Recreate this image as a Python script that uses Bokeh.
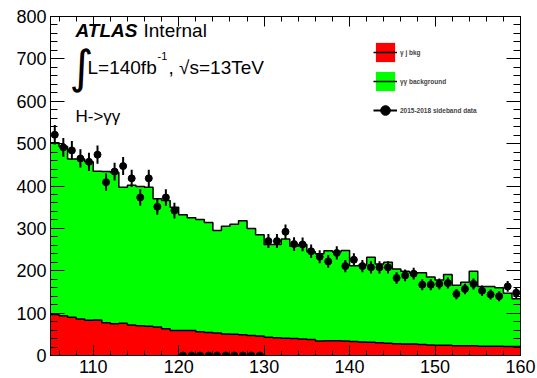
import numpy as np
from bokeh.plotting import figure
from bokeh.models import Label, Legend, LegendItem, LinearAxis, SingleIntervalTicker
from bokeh.embed import file_html
from bokeh.resources import INLINE

# ---------------- data ----------------
bin_edges = np.arange(105, 161, 1)          # 1 GeV bins, 105..160

gj_bkg = [97, 94, 90, 86, 83, 84, 77, 75, 76, 72,
          70, 69, 67, 63, 59, 59, 59, 56, 54, 53,
          51, 50, 49, 47, 46, 43, 42, 41, 40, 39,
          38, 34, 35, 35, 34, 33, 32, 31, 30, 29,
          28, 27, 27, 26, 25, 24, 24, 23, 23, 23,
          22, 22, 22, 21, 21]

total_bkg = [502, 493, 464, 464, 457, 435, 434, 432, 397, 402,
             399, 397, 370, 366, 350, 332, 325, 321, 314, 295,
             305, 310, 318, 300, 285, 262, 262, 275, 258, 262,
             245, 240, 247, 244, 248, 212, 213, 232, 216, 220,
             204, 199, 195, 195, 185, 178, 191, 166, 173, 199,
             163, 163, 160, 147, 134]

data_counts = [521, 491, 484, 465, 457, 474, 409, 434, 447, 418,
               373, 418, 351, 373, 342,
               0, 0, 0, 0, 0, 0, 0, 0, 0, 0,
               270, 270, 292, 263, 262, 246, 233, 222, 242, 211,
               226, 211, 208, 208, 208, 183, 189, 193, 167, 167,
               169, 171, 145, 157, 169, 153, 144, 140, 163, 148]

x_tick_values = [110, 120, 130, 140, 150, 160]
y_tick_values = [0, 100, 200, 300, 400, 500, 600, 700, 800]

# ---------------- derived ----------------
lo = bin_edges[:-1]
hi = bin_edges[1:]
centers = (lo + hi) / 2.0
data = np.array(data_counts, dtype=float)
err = np.sqrt(data)
gj_step = list(gj_bkg) + [gj_bkg[-1]]
tot_step = list(total_bkg) + [total_bkg[-1]]

FONT = "Liberation Sans"

p = figure(width=537, height=378, x_range=(105, 160), y_range=(0, 800),
           output_backend="svg", toolbar_location=None,
           min_border_left=50, min_border_right=17, min_border_top=16, min_border_bottom=23)
p.grid.visible = False
p.outline_line_color = "black"
p.background_fill_color = "white"
p.border_fill_color = "white"

def style_axis(ax, interval, tick_in, minor_in, labels=None):
    ax.ticker = SingleIntervalTicker(interval=interval, num_minor_ticks=5)
    ax.major_tick_in = tick_in
    ax.major_tick_out = 0
    ax.minor_tick_in = minor_in
    ax.minor_tick_out = 0
    ax.axis_line_color = "black"
    ax.major_tick_line_color = "black"
    ax.minor_tick_line_color = "black"
    ax.major_label_text_font = FONT
    ax.major_label_text_font_size = "18px"
    ax.major_label_text_color = "black"
    if labels is not None:
        ax.major_label_overrides = {v: "" for v in labels}
        ax.major_label_standoff = 0

style_axis(p.xaxis[0], 10, 10, 5)
p.xaxis[0].major_label_standoff = 4
style_axis(p.yaxis[0], 100, 14, 7)
p.yaxis[0].major_label_standoff = 4

top_ax = LinearAxis()
style_axis(top_ax, 10, 10, 5, labels=x_tick_values)
p.add_layout(top_ax, "above")
right_ax = LinearAxis()
style_axis(right_ax, 100, 14, 7, labels=y_tick_values)
p.add_layout(right_ax, "right")

# stacked histograms
red = p.varea_step(x=bin_edges, y1=np.zeros(len(bin_edges)), y2=gj_step, step_mode="after",
                   fill_color="#ff0000")
green = p.varea_step(x=bin_edges, y1=gj_step, y2=tot_step, step_mode="after",
                     fill_color="#00ff00")
red_line = p.step(x=bin_edges, y=gj_step, mode="after", line_color="black", line_width=1.5)
green_line = p.step(x=bin_edges, y=tot_step, mode="after", line_color="black", line_width=1.5)

# data points
err_seg = p.segment(x0=centers, y0=data - err, x1=centers, y1=data + err,
                    line_color="black", line_width=2)
pts = p.scatter(x=centers, y=data, size=7, fill_color="black", line_color="black")

legend = Legend(items=[
    LegendItem(label="γ j bkg", renderers=[red, red_line]),
    LegendItem(label="γγ background", renderers=[green, green_line]),
    LegendItem(label="2015-2018 sideband data", renderers=[err_seg, pts]),
], location=(323, 233), orientation="vertical",
   glyph_width=24, glyph_height=24, spacing=5, padding=0, margin=0,
   label_standoff=3, label_height=24,
   label_text_font=FONT, label_text_font_size="6.5px", label_text_font_style="bold",
   background_fill_alpha=0, border_line_alpha=0)
p.add_layout(legend)

def px2x(px):
    return 105 + (px - 50) / 8.545

def py2y(py):
    return (355 - py) / 0.42375

def lab(px, py, text, size, style="normal", font=FONT):
    p.add_layout(Label(x=px2x(px), y=py2y(py), text=text, text_font=font,
                       text_font_size=size, text_font_style=style,
                       text_color="black", text_baseline="alphabetic", text_align="left"))

lab(75, 30, "ATLAS", "19px", "bold italic")
lab(143, 30, "Internal", "19px")
lab(69, 66, "∫", "46px", font="DejaVu Sans")
lab(87, 67, "L=140fb", "19px")
lab(157, 55.5, "-1", "11px")
lab(168, 67, ", √s=13TeV", "19px")
lab(75, 115.5, "H->γγ", "17px")

open("out.html", "w").write(file_html(p, INLINE))
